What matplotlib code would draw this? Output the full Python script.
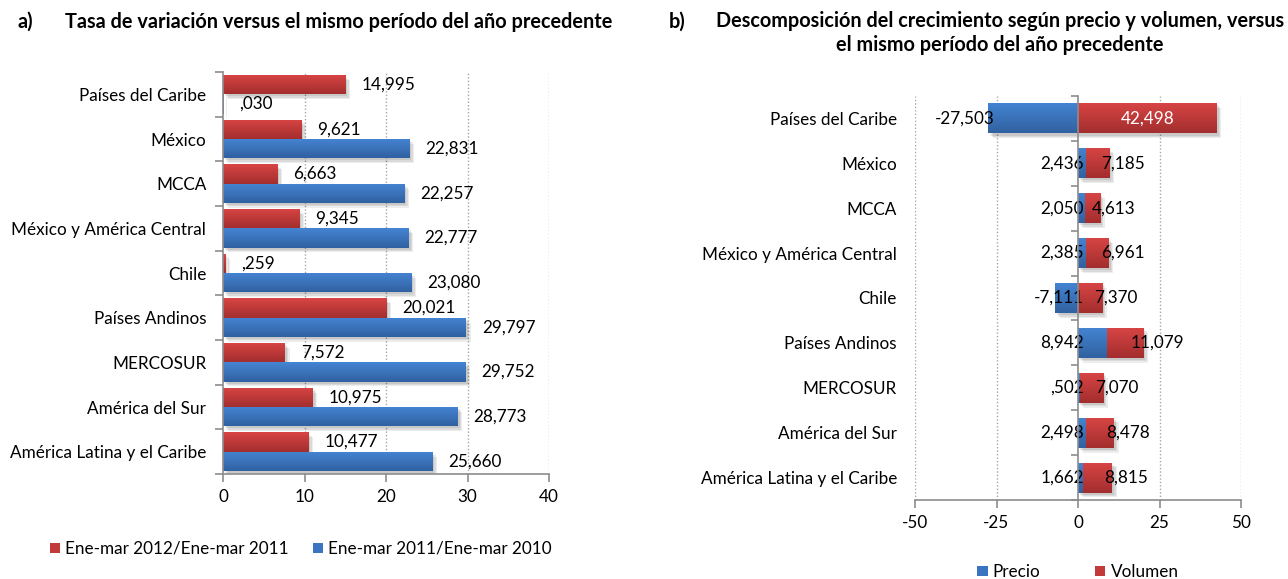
import numpy as np
import matplotlib
matplotlib.use("Agg")
import matplotlib.pyplot as plt
from matplotlib.patches import Patch
import matplotlib.patheffects as pe

plt.rcParams['font.family'] = ['Lato', 'DejaVu Sans']

# ---------------- data ----------------
categories = ["Países del Caribe", "México", "MCCA", "México y América Central",
              "Chile", "Países Andinos", "MERCOSUR", "América del Sur",
              "América Latina y el Caribe"]

# panel a
serie_2012_2011 = [14.995, 9.621, 6.663, 9.345, 0.259, 20.021, 7.572, 10.975, 10.477]
serie_2011_2010 = [0.030, 22.831, 22.257, 22.777, 23.080, 29.797, 29.752, 28.773, 25.660]
legend_a = ["Ene-mar 2012/Ene-mar 2011", "Ene-mar 2011/Ene-mar 2010"]
xticks_a = [0, 10, 20, 30, 40]

# panel b
precio = [-27.503, 2.436, 2.050, 2.385, -7.111, 8.942, 0.502, 2.498, 1.662]
volumen = [42.498, 7.185, 4.613, 6.961, 7.370, 11.079, 7.070, 8.478, 8.815]
legend_b = ["Precio", "Volumen"]
xticks_b = [-50, -25, 0, 25, 50]

title_a = "Tasa de variación versus el mismo período del año precedente"
title_b = "Descomposición del crecimiento según precio y volumen, versus\nel mismo período del año precedente"

# ---------------- style ----------------
W, H = 1288, 579
RED_TOP, RED_BOT = np.array([0.85, 0.27, 0.27]), np.array([0.64, 0.18, 0.18])
BLUE_TOP, BLUE_BOT = np.array([0.27, 0.52, 0.83]), np.array([0.19, 0.38, 0.63])
RED_MID, BLUE_MID = "#C23A3A", "#3B74C0"
GRID = "#A6A6A6"
AXC = "#8C8C8C"
FS = 12.3
TFS = 14.3


def fmt(v):
    s = f"{abs(v):.3f}".replace(".", ",")
    if s.startswith("0,"):
        s = s[1:]
    return ("-" if v < 0 else "") + s


def grad_bars(ax, bars, top, bot):
    grad = np.linspace(0, 1, 64)[:, None, None]
    img = top[None, None, :] * (1 - grad) + bot[None, None, :] * grad
    for b in bars:
        x0, y0 = b.get_x(), b.get_y()
        w, h = b.get_width(), b.get_height()
        if w == 0:
            continue
        b.set_path_effects([
            pe.SimplePatchShadow(offset=(3.5, -3.5), shadow_rgbFace='k', alpha=0.07),
            pe.SimplePatchShadow(offset=(2.5, -2.5), shadow_rgbFace='k', alpha=0.08),
            pe.SimplePatchShadow(offset=(1.5, -1.5), shadow_rgbFace='k', alpha=0.08),
            pe.Normal()])
        im = ax.imshow(img, extent=(min(x0, x0 + w), max(x0, x0 + w), y0 + h, y0),
                       aspect='auto', zorder=2.5, interpolation='bilinear')
        im.set_clip_path(b)


def fx(px):
    return px / W


def fy(py):
    return 1 - py / H


fig = plt.figure(figsize=(W / 100, H / 100), dpi=100)

# ================= panel a =================
axa = fig.add_axes([fx(223), fy(474), fx(549) - fx(223), fy(72) - fy(474)])
y = np.arange(len(categories))
bh = 0.43
br = axa.barh(y - bh / 2, serie_2012_2011, height=bh, color=RED_MID, zorder=2)
bb = axa.barh(y + bh / 2, serie_2011_2010, height=bh, color=BLUE_MID, zorder=2)
grad_bars(axa, br, RED_TOP, RED_BOT)
grad_bars(axa, bb, BLUE_TOP, BLUE_BOT)
for yy, v in zip(y - bh / 2, serie_2012_2011):
    axa.annotate(fmt(v), xy=(v, yy), xytext=(16, 0), textcoords='offset pixels',
                 ha='left', va='center', fontsize=FS, zorder=5)
for yy, v in zip(y + bh / 2, serie_2011_2010):
    axa.annotate(fmt(v), xy=(v, yy), xytext=(16, 0), textcoords='offset pixels',
                 ha='left', va='center', fontsize=FS, zorder=5)

axa.set_xlim(xticks_a[0], xticks_a[-1])
axa.set_ylim(len(categories) - 0.5, -0.5)
axa.set_xticks(xticks_a)
axa.set_yticks(y)
axa.set_yticklabels(categories, fontsize=FS)
axa.set_yticks(np.arange(len(categories) + 1) - 0.5, minor=True)
axa.tick_params(axis='y', which='major', length=0, pad=12, labelsize=FS)
axa.tick_params(axis='y', which='minor', length=6, color=AXC, width=1.2)
axa.tick_params(axis='x', length=6, color=AXC, width=1.2, labelsize=FS, pad=5)
for xv in xticks_a[1:]:
    axa.axvline(xv, color=GRID, lw=1, ls=(0, (1, 1.5)), zorder=1)
for s in ['top', 'right']:
    axa.spines[s].set_visible(False)
for s in ['left', 'bottom']:
    axa.spines[s].set_color(AXC)
    axa.spines[s].set_linewidth(1.2)
axa.spines['left'].set_zorder(6)

fig.legend(handles=[Patch(facecolor=RED_MID, label=legend_a[0]),
                    Patch(facecolor=BLUE_MID, label=legend_a[1])],
           loc='center', bbox_to_anchor=(fx(301), fy(549)), ncol=2, frameon=False,
           fontsize=FS, handlelength=0.6, handleheight=0.6, handletextpad=0.3,
           columnspacing=1.4)

fig.text(fx(17), fy(22), "a)", fontsize=TFS, fontweight='bold', ha='left', va='center')
fig.text(fx(65), fy(22), title_a, fontsize=TFS, fontweight='bold', ha='left', va='center')

# ================= panel b =================
axb = fig.add_axes([fx(915), fy(500), fx(1241) - fx(915), fy(96) - fy(500)])
axb.spines['left'].set_position(('data', 0))
bh2 = 0.67
base_v = [max(p, 0) for p in precio]
bp = axb.barh(y, precio, height=bh2, color=BLUE_MID, zorder=2)
bv = axb.barh(y, volumen, left=base_v, height=bh2, color=RED_MID, zorder=2)
grad_bars(axb, bp, BLUE_TOP, BLUE_BOT)
grad_bars(axb, bv, RED_TOP, RED_BOT)

for yy, p in zip(y, precio):
    anchor = p if p < -15 else 0
    axb.annotate(fmt(p), xy=(anchor, yy), xytext=(6, 0), textcoords='offset pixels',
                 ha='right', va='center', fontsize=FS, zorder=5)
for yy, b0, v in zip(y, base_v, volumen):
    if v > 30:
        axb.annotate(fmt(v), xy=(b0 + v / 2, yy), ha='center', va='center',
                     fontsize=FS, color='white', zorder=5)
    else:
        axb.annotate(fmt(v), xy=(b0 + v, yy), xytext=(14, 0), textcoords='offset pixels',
                     ha='center', va='center', fontsize=FS, zorder=5)

axb.set_xlim(xticks_b[0], xticks_b[-1])
axb.set_ylim(len(categories) - 0.5, -0.5)
axb.set_xticks(xticks_b)
axb.set_xticklabels([str(t) for t in xticks_b])
axb.set_yticks(y)
axb.set_yticklabels(categories, fontsize=FS)
axb.set_yticks(np.arange(len(categories) + 1) - 0.5, minor=True)
axb.tick_params(axis='y', which='major', length=0, pad=(163 + 18) * 0.72, labelsize=FS)
axb.tick_params(axis='y', which='minor', length=5, color=AXC, width=1.2)
axb.tick_params(axis='x', length=6, color=AXC, width=1.2, labelsize=FS, pad=5)
for xv in xticks_b:
    if xv != 0:
        axb.axvline(xv, color=GRID, lw=1, ls=(0, (1, 1.5)), zorder=1)
for s in ['top', 'right']:
    axb.spines[s].set_visible(False)
for s in ['left', 'bottom']:
    axb.spines[s].set_color(AXC)
    axb.spines[s].set_linewidth(1.2)
axb.spines['left'].set_zorder(6)

fig.legend(handles=[Patch(facecolor=BLUE_MID, label=legend_b[0]),
                    Patch(facecolor=RED_MID, label=legend_b[1])],
           loc='center', bbox_to_anchor=(fx(1078), fy(572)), ncol=2, frameon=False,
           fontsize=FS, handlelength=0.6, handleheight=0.6, handletextpad=0.3,
           columnspacing=3.2)

fig.text(fx(669), fy(22), "b)", fontsize=TFS, fontweight='bold', ha='left', va='center')
fig.text(fx(1000), fy(33), title_b, fontsize=TFS, fontweight='bold', ha='center',
         va='center', linespacing=1.3, multialignment='center')

fig.savefig("out.png", dpi=100)
